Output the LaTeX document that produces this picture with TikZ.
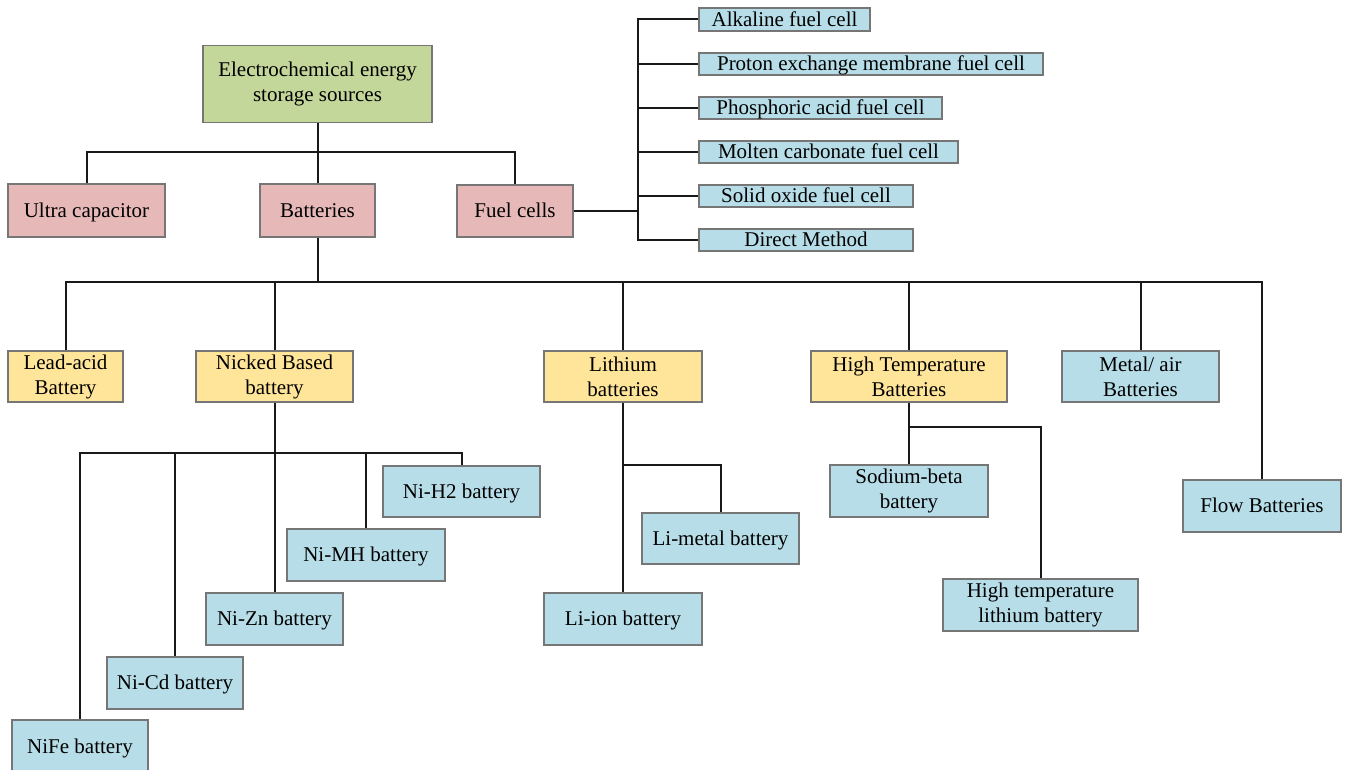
\documentclass[tikz,border=0pt]{standalone}
\usepackage{fontspec}
\setmainfont{Liberation Serif}
\definecolor{rootgreen}{RGB}{196,215,155}
\definecolor{cpink}{RGB}{230,184,183}
\definecolor{cyellow}{RGB}{255,229,153}
\definecolor{cblue}{RGB}{183,222,232}
\definecolor{bordergray}{RGB}{118,118,118}
\definecolor{linecol}{RGB}{25,25,25}
\tikzset{
  box/.style={draw=bordergray, line width=1.3pt, inner sep=0pt, align=center,
    font=\fontsize{21}{25}\selectfont, text=black},
  oneline/.style={text height=16pt, text depth=2.1pt},
  rootbox/.style={box, fill=rootgreen},
  pinkbox/.style={box, oneline, fill=cpink},
  yellowbox/.style={box, fill=cyellow},
  bluebox/.style={box, fill=cblue},
  conn/.style={draw=linecol, line width=2pt}
}
\begin{document}
\begin{tikzpicture}[x=1pt, y=-1pt]
\useasboundingbox (0,0) rectangle (1348,770);
\clip (0,0) rectangle (1348,770);
\fill[white] (0,0) rectangle (1348,770);

% level 0 and 1
\node[rootbox, minimum width=229pt, minimum height=77pt] (root) at (317.5,84) {Electrochemical energy\\storage sources};
\node[pinkbox, minimum width=157pt, minimum height=53pt] (ultra) at (86.5,210.5) {Ultra capacitor};
\node[pinkbox, minimum width=115pt, minimum height=53pt] (batt) at (317.5,210.5) {Batteries};
\node[pinkbox, minimum width=116pt, minimum height=52pt] (fuel) at (515,211) {Fuel cells};

% fuel cell types
\node[bluebox, oneline, minimum width=171pt, minimum height=23pt] (alk) at (784.5,19.5) {Alkaline fuel cell};
\node[bluebox, oneline, minimum width=344pt, minimum height=22pt] (pem) at (871,64) {Proton exchange membrane fuel cell};
\node[bluebox, oneline, minimum width=243pt, minimum height=22pt] (phos) at (820.5,108) {Phosphoric acid fuel cell};
\node[bluebox, oneline, minimum width=259pt, minimum height=22pt] (molten) at (828.5,152) {Molten carbonate fuel cell};
\node[bluebox, oneline, minimum width=214pt, minimum height=22pt] (solid) at (806,196) {Solid oxide fuel cell};
\node[bluebox, oneline, minimum width=214pt, minimum height=22pt] (direct) at (806,240) {Direct Method};

% battery types
\node[yellowbox, minimum width=115pt, minimum height=51pt] (lead) at (65.5,376.5) {Lead-acid\\Battery};
\node[yellowbox, minimum width=157pt, minimum height=51pt] (nick) at (274.5,376.5) {Nicked Based\\battery};
\node[yellowbox, minimum width=158pt, minimum height=51pt] (lith) at (623,376.5) {Lithium\\batteries};
\node[yellowbox, minimum width=196pt, minimum height=51pt] (ht) at (909,376.5) {High Temperature\\Batteries};
\node[bluebox, minimum width=157pt, minimum height=51pt] (metal) at (1140.5,376.5) {Metal/ air\\Batteries};
\node[bluebox, oneline, minimum width=158pt, minimum height=52pt] (flow) at (1262,506) {Flow Batteries};

% nickel family
\node[bluebox, oneline, minimum width=157pt, minimum height=51pt] (nih2) at (461.5,491.5) {Ni-H2 battery};
\node[bluebox, oneline, minimum width=158pt, minimum height=52pt] (nimh) at (366,555) {Ni-MH battery};
\node[bluebox, oneline, minimum width=137pt, minimum height=52pt] (nizn) at (274.5,619) {Ni-Zn battery};
\node[bluebox, oneline, minimum width=136pt, minimum height=52pt] (nicd) at (175,683) {Ni-Cd battery};
\node[bluebox, oneline, minimum width=136pt, minimum height=53pt] (nife) at (80,746.5) {NiFe battery};

% lithium family
\node[bluebox, oneline, minimum width=157pt, minimum height=51pt] (limetal) at (720.5,538.5) {Li-metal battery};
\node[bluebox, oneline, minimum width=158pt, minimum height=52pt] (liion) at (623,619) {Li-ion battery};

% high temperature family
\node[bluebox, minimum width=158pt, minimum height=52pt] (sodium) at (909,491) {Sodium-beta\\battery};
\node[bluebox, minimum width=195pt, minimum height=52pt] (htli) at (1040.5,605) {High temperature\\lithium battery};

% junction coordinates
\coordinate (j1) at (317.5,152);
\coordinate (ftop) at (638,19.5);
\coordinate (fbot) at (638,240);
\coordinate (bj) at (317.5,282);
\coordinate (nj) at (274.5,453);
\coordinate (lj) at (623,465);
\coordinate (hj) at (909,427);

% connectors
\draw[conn] (root.south) -- (batt.north);
\draw[conn] (ultra.north) |- (j1) -| (fuel.north);

\draw[conn] (fuel.east) -- (fuel.east -| ftop);
\draw[conn] (alk.west) -- (ftop) -- (fbot) -- (direct.west);
\draw[conn] (pem.west) -- (pem.west -| ftop);
\draw[conn] (phos.west) -- (phos.west -| ftop);
\draw[conn] (molten.west) -- (molten.west -| ftop);
\draw[conn] (solid.west) -- (solid.west -| ftop);

\draw[conn] (batt.south) -- (bj);
\draw[conn] (lead.north) |- (bj) -| (flow.north);
\draw[conn] (nick.north) -- (nick.north |- bj);
\draw[conn] (lith.north) -- (lith.north |- bj);
\draw[conn] (ht.north) -- (ht.north |- bj);
\draw[conn] (metal.north) -- (metal.north |- bj);

\draw[conn] (nick.south) -- (nizn.north);
\draw[conn] (nife.north) |- (nj) -| (nih2.north);
\draw[conn] (nicd.north) -- (nicd.north |- nj);
\draw[conn] (nimh.north) -- (nimh.north |- nj);

\draw[conn] (lith.south) -- (liion.north);
\draw[conn] (lj) -| (limetal.north);

\draw[conn] (ht.south) -- (sodium.north);
\draw[conn] (hj) -| (htli.north);
\end{tikzpicture}
\end{document}
